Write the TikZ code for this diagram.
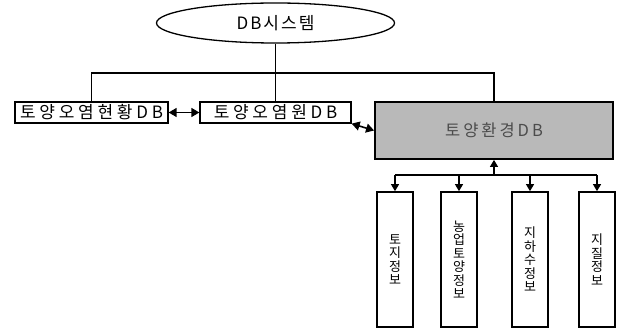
\documentclass[tikz,border=0pt]{standalone}
\usepackage{fontspec}
\usepackage{tikz}
\usetikzlibrary{shapes.geometric,arrows.meta}
\newfontfamily\krfont{Noto Sans CJK KR}

\begin{document}
\begin{tikzpicture}[x=1pt, y=-1pt,
    dbbox/.style={draw, rectangle, line width=1.3pt, minimum height=21pt, inner sep=0pt,
        font=\krfont\fontsize{17}{18}\selectfont\addfontfeature{LetterSpace=22}},
    infobox/.style={draw, rectangle, line width=1.7pt, minimum width=36pt, minimum height=135pt,
        inner sep=0pt, align=center, font=\krfont\fontsize{13}{13.5}\selectfont},
    link/.style={line width=1.2pt},
    dblarrow/.style={line width=1.6pt, {Triangle[length=8pt,width=9pt]}-{Triangle[length=8pt,width=9pt]}},
    downarrow/.style={line width=1.2pt, -{Triangle[length=7pt,width=8pt]}}]
    \useasboundingbox (0,0) rectangle (618,331);

    % top of the tree
    \node[draw, ellipse, line width=1.3pt, minimum width=238pt, minimum height=40pt, inner sep=0pt,
        font=\krfont\fontsize{17}{18}\selectfont\addfontfeature{LetterSpace=12}] (system) at (275.5,23) {DB시스템};

    % database row
    \node[dbbox, minimum width=153pt] (status) at (91.5,112.5) {토양오염현황DB};
    \node[dbbox, minimum width=151pt] (source) at (275.5,112.5) {토양오염원DB};
    \node[draw, rectangle, line width=1.8pt, fill=gray!55, text=black!70, minimum width=238pt,
        minimum height=57pt, inner sep=0pt,
        font=\krfont\fontsize{16.5}{18}\selectfont\addfontfeature{LetterSpace=18}] (env) at (494,130.5) {토양환경DB};

    % information boxes
    \node[infobox] (land) at (395,259.5) {토\\지\\정\\보};
    \node[infobox] (farm) at (459,259.5) {농\\업\\토\\양\\정\\보};
    \node[infobox] (water) at (530,259.5) {지\\하\\수\\정\\보};
    \node[infobox] (geo) at (597,259.5) {지\\질\\정\\보};

    % tree lines
    \coordinate (bus) at (275.5,73);
    \draw[link] (system) -- (bus);
    \draw[link] (bus) -| (status);
    \draw[link] (bus) -| (source);
    \draw[link] (bus) -| (env);

    \draw[dblarrow] (status) -- (source);
    \draw[dblarrow] (source.south east) -- (env.west);

    % branch to the information boxes
    \coordinate (split) at (494,175);
    \draw[downarrow] (split) -- (env);
    \draw[link] (land.north |- split) -- (geo.north |- split);
    \foreach \n in {land,farm,water,geo}
        \draw[downarrow] (split -| \n) -- (\n);
\end{tikzpicture}
\end{document}
